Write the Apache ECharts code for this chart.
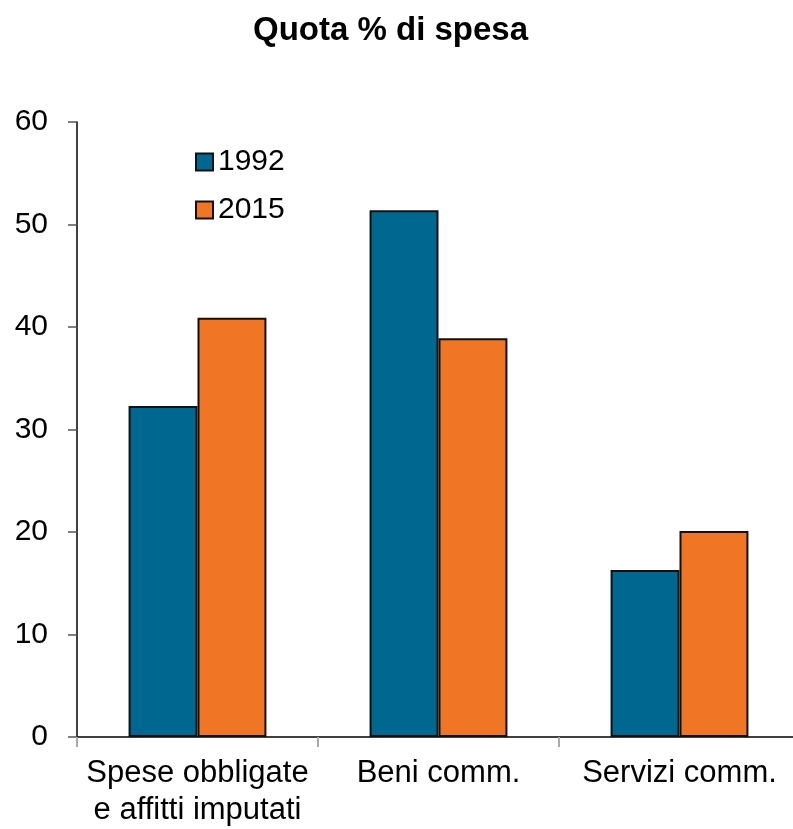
<!DOCTYPE html>
<html>
<head>
<meta charset="utf-8">
<script src="https://cdn.jsdelivr.net/npm/echarts@6/dist/echarts.min.js"></script>
<style>
  html, body { margin: 0; padding: 0; background: #fff; overflow: hidden; }
  #wrap { width: 793px; height: 829px; overflow: hidden; position: relative; }
  #chart { width: 800px; height: 829px; position: absolute; left: 0; top: 0; }
</style>
</head>
<body>
<div id="wrap"><div id="chart"></div></div>
<script>
// Spending share by category, 1992 vs 2015
const categories = ['Spese obbligate\ne affitti imputati', 'Beni comm.', 'Servizi comm.'];
const values1992 = [32.3, 51.4, 16.3];
const values2015 = [40.9, 38.9, 20.1];
const yTicks = { min: 0, max: 60, interval: 10 };

const FONT = 'Liberation Sans, Arial, Helvetica, sans-serif';

const chart = echarts.init(document.getElementById('chart'));
chart.setOption({
  animation: false,
  backgroundColor: '#ffffff',
  title: {
    text: 'Quota % di spesa',
    left: 248,
    top: 9,
    textStyle: { fontFamily: FONT, fontSize: 33, fontWeight: 'bold', color: '#000' }
  },
  legend: {
    orient: 'vertical',
    left: 190,
    top: 142,
    icon: 'rect',
    itemWidth: 17,
    itemHeight: 17,
    itemGap: 18,
    textStyle: { fontFamily: FONT, fontSize: 30, color: '#000', padding: [0, 0, 0, 0] },
    data: ['1992', '2015']
  },
  grid: { left: 77, right: 0, top: 122, bottom: 89, containLabel: false },
  xAxis: {
    type: 'category',
    data: categories,
    axisLine: { lineStyle: { color: '#000', width: 1.5 } },
    axisTick: { show: true, length: 10, lineStyle: { color: '#aaa', width: 2 } },
    axisLabel: {
      interval: 0,
      fontFamily: FONT, fontSize: 31, color: '#000', margin: 18, lineHeight: 37
    }
  },
  yAxis: {
    type: 'value',
    min: yTicks.min,
    max: yTicks.max,
    interval: yTicks.interval,
    splitLine: { show: false },
    axisLine: { show: true, lineStyle: { color: '#000', width: 1.5 } },
    axisTick: { show: true, inside: false, length: 9, lineStyle: { color: '#555', width: 1.5 } },
    axisLabel: { fontFamily: FONT, fontSize: 30, color: '#000', margin: 29 }
  },
  series: [
    {
      name: '1992',
      type: 'bar',
      data: values1992,
      barWidth: '28.6%',
      barGap: '0%',
      itemStyle: { color: '#006890', borderColor: '#111', borderWidth: 2 }
    },
    {
      name: '2015',
      type: 'bar',
      data: values2015,
      barWidth: '28.6%',
      barGap: '0%',
      itemStyle: { color: '#F07525', borderColor: '#111', borderWidth: 2 }
    }
  ]
});
</script>
</body>
</html>
